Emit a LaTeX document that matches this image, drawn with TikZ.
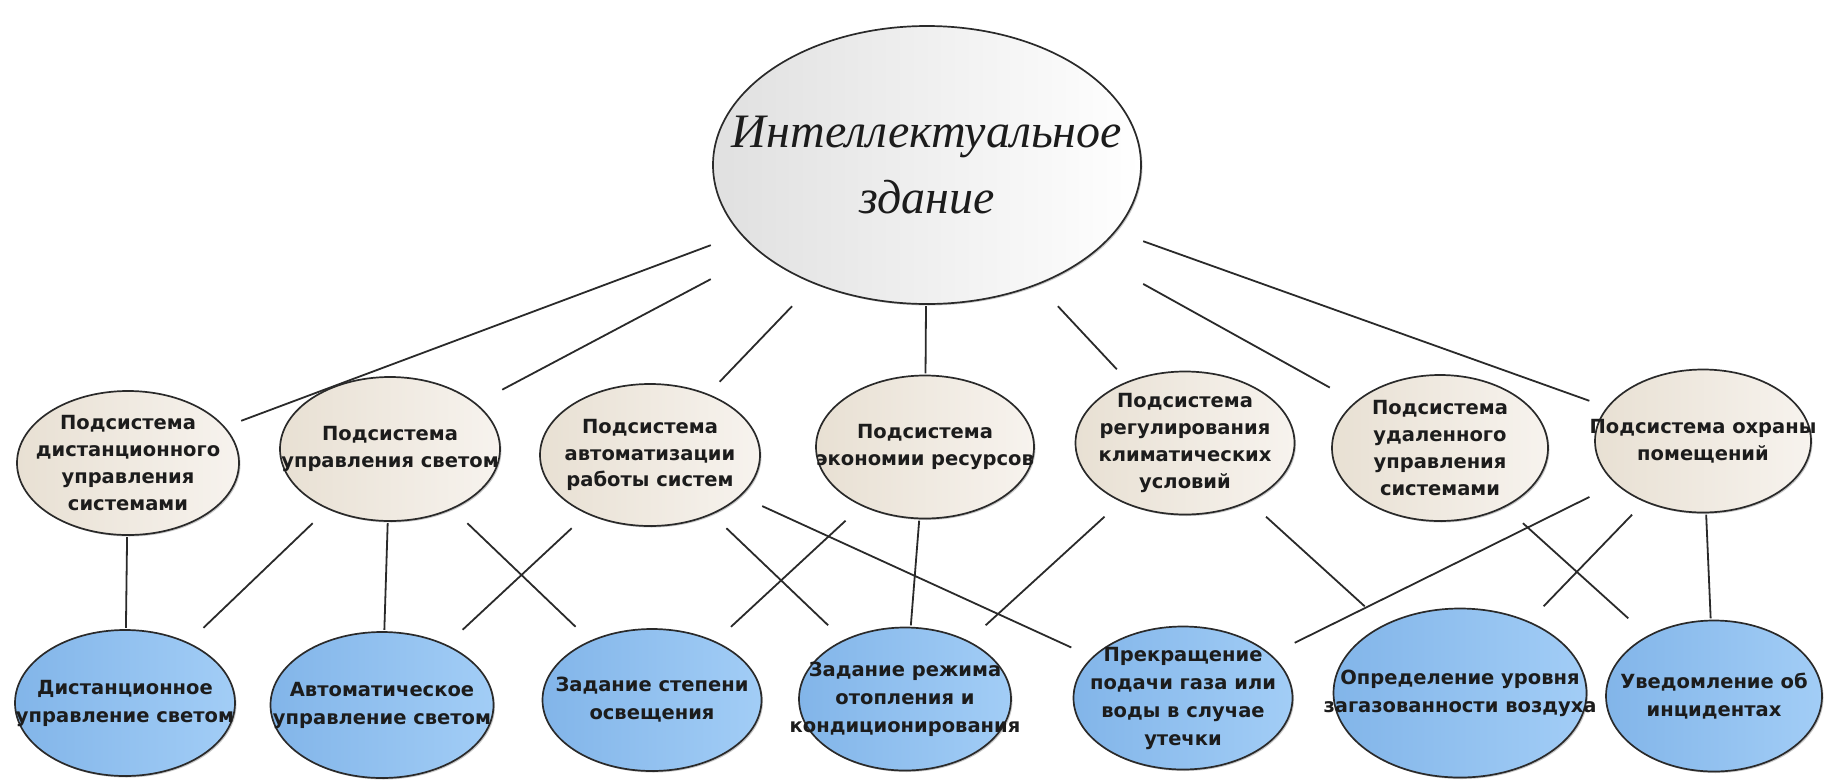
\documentclass[tikz,border=0pt]{standalone}
\usepackage{fontspec}
\setsansfont{DejaVu Sans}
\newfontfamily\hubfont{Liberation Serif}
\usepackage{tikz}
\usetikzlibrary{calc}
\definecolor{hubGray}{HTML}{E0E0E0}
\definecolor{subLight}{HTML}{F7F3EE}
\definecolor{subDark}{HTML}{E8E0D3}
\definecolor{leafLight}{HTML}{A2CDF6}
\definecolor{leafDark}{HTML}{82B5E9}
\definecolor{edgeGray}{HTML}{2A2A2A}
\definecolor{textDark}{HTML}{1C1C1C}

\begin{document}
\begin{tikzpicture}[x=1pt, y=-1pt,
    oval/.style n args={3}{rectangle, inner sep=0pt, align=center,
                  minimum width=#1pt, minimum height=#2pt, text=textDark,
                  path picture={
                    \fill[black!22] ([shift={(1.5pt,-1.5pt)}]path picture bounding box.center)
                      ellipse [x radius=#1pt/2-2pt, y radius=#2pt/2-2pt];
                    \shadedraw[#3, draw=edgeGray, line width=1.7pt]
                      (path picture bounding box.center)
                      ellipse [x radius=#1pt/2-2pt, y radius=#2pt/2-2pt];
                  }},
    hub/.style 2 args={oval={#1}{#2}{left color=hubGray, right color=white},
                  font=\hubfont\itshape\fontsize{48}{66}\selectfont},
    sub/.style 2 args={oval={#1}{#2}{left color=subDark, right color=subLight},
                  font=\sffamily\bfseries\fontsize{19.5}{26.7}\selectfont},
    leaf/.style 2 args={oval={#1}{#2}{left color=leafDark, right color=leafLight},
                  font=\sffamily\bfseries\fontsize{19.5}{28}\selectfont},
    link/.style={draw=edgeGray, line width=1.8pt},
  ]
    \useasboundingbox (0,0) rectangle (1829,780);

    % Top
    \node[hub={432}{282}] (hub) at (927,165) {Интеллектуальное\\здание};

    % Subsystems
    \node[sub={226}{148}] (s1) at (128,463)
      {Подсистема\\дистанционного\\управления\\системами};
    \node[sub={224}{148}] (s2) at (390,449) {Подсистема\\управления светом};
    \node[sub={224}{146}] (s3) at (650,455)
      {Подсистема\\автоматизации\\работы систем};
    \node[sub={222}{147}] (s4) at (925,447) {Подсистема\\экономии ресурсов};
    \node[sub={223}{147}] (s5) at (1185,443)
      {Подсистема\\регулирования\\климатических\\условий};
    \node[sub={220}{150}] (s6) at (1440,448)
      {Подсистема\\удаленного\\управления\\системами};
    \node[sub={220}{147}] (s7) at (1703,441) {Подсистема охраны\\помещений};

    % Functions
    \node[leaf={224}{150}] (f1) at (125,703) {Дистанционное\\управление светом};
    \node[leaf={227}{150}] (f2) at (382,705) {Автоматическое\\управление светом};
    \node[leaf={223}{146}] (f3) at (652,700) {Задание степени\\освещения};
    \node[leaf={216}{147}] (f4) at (905,699)
      {Задание режима\\отопления и\\кондиционирования};
    \node[leaf={223}{147}] (f5) at (1183,698)
      {Прекращение\\подачи газа или\\воды в случае\\утечки};
    \node[leaf={257}{173}] (f6) at (1460,693)
      {Определение уровня\\загазованности воздуха};
    \node[leaf={220}{155}] (f7) at (1714,696) {Уведомление об\\инцидентах};

    % Links
    \foreach \s in {s1,s2,s3,s4,s5,s6,s7}
      \draw[link] (hub) -- (\s);
    \foreach \a/\b in {s1/f1, s2/f1, s2/f2, s2/f3, s3/f2, s3/f4, s3/f5,
                       s4/f3, s4/f4, s5/f4, s5/f6, s6/f7, s7/f5, s7/f6, s7/f7}
      \draw[link] (\a) -- (\b);
  \end{tikzpicture}
\end{document}
